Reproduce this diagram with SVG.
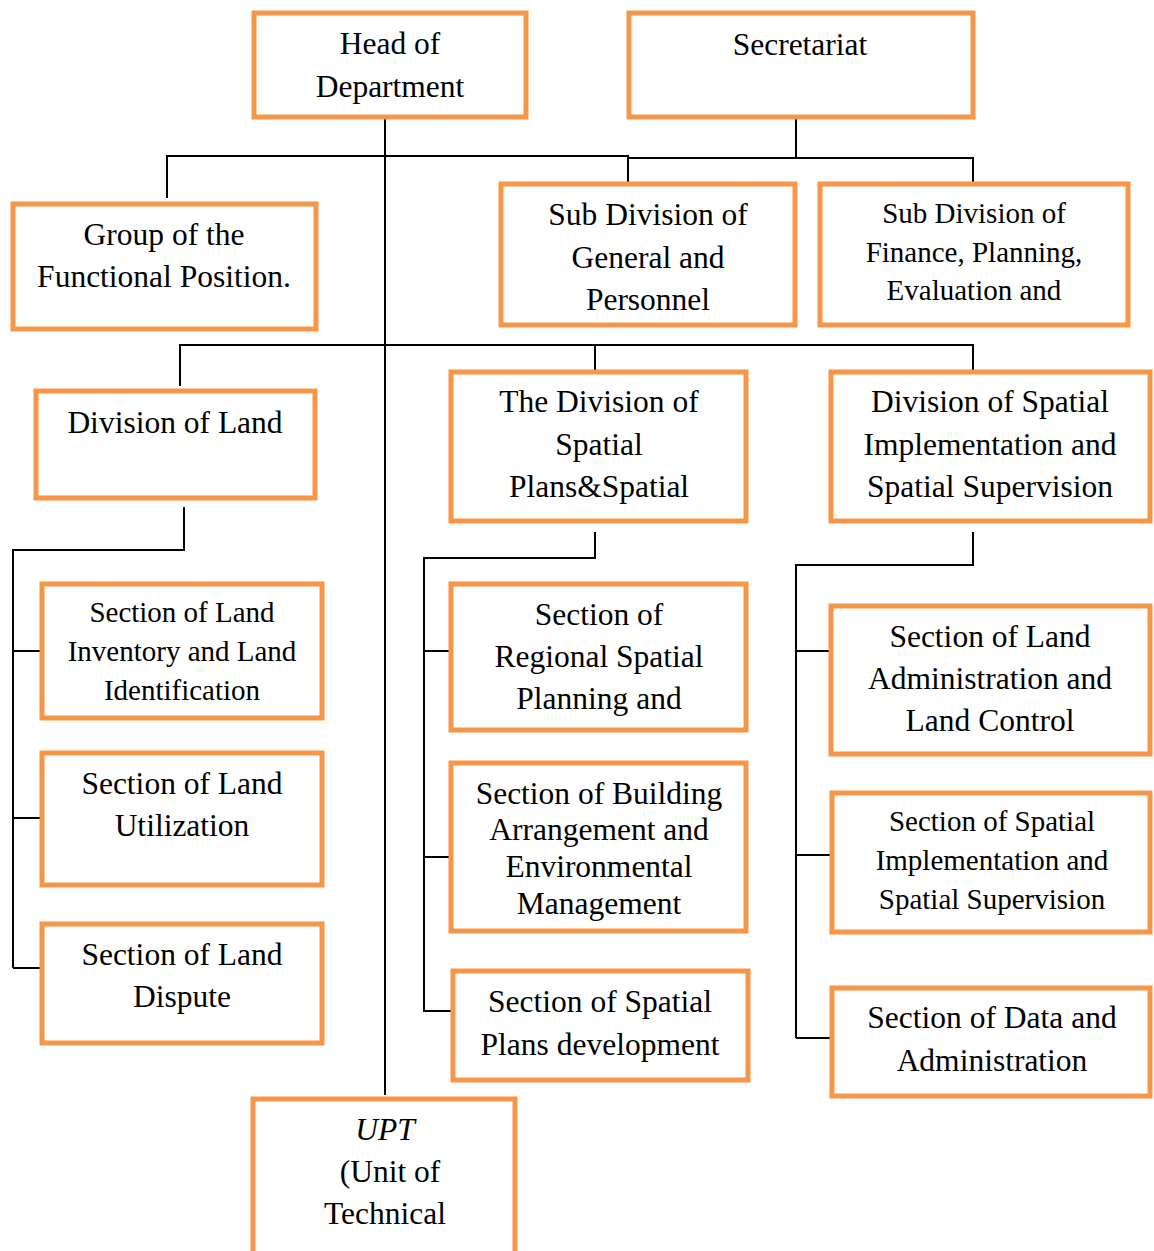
<svg xmlns="http://www.w3.org/2000/svg" width="1154" height="1251" viewBox="0 0 1154 1251">
<style>
.box{fill:#fff;stroke:#F79646;stroke-width:5}
.t{font-family:"Liberation Serif","Times New Roman",serif;font-size:31.5px;fill:#000;text-anchor:middle}
.s{font-size:29px}
.i{font-style:italic}
.c{stroke:#000;stroke-width:2;fill:none}
</style>
<rect width="1154" height="1251" fill="#fff"/>
<g id="connectors">
<path class="c" d="M385 118V1095"/>
<path class="c" d="M167 198V156H628V183"/>
<path class="c" d="M796 118V158H628M796 158H973V183"/>
<path class="c" d="M180 386V345H973V370M595 345V370"/>
<path class="c" d="M184 507V550H13V968M13 651H41M13 818H41M13 968H41"/>
<path class="c" d="M595 532V558H424V1012M424 651H450M424 857H450M424 1011H452"/>
<path class="c" d="M973 532V565H796V1038M796 651H830M796 855H831M796 1038H831"/>
</g>
<g id="head"><rect class="box" x="254" y="13" width="272" height="104"/><text class="t" x="390" y="54">Head of</text><text class="t" x="390" y="97">Department</text></g>
<g id="secretariat"><rect class="box" x="629" y="13" width="344" height="104"/><text class="t" x="800" y="55">Secretariat</text></g>
<g id="functional"><rect class="box" x="13" y="204" width="303" height="125"/><text class="t" x="164" y="245">Group of the</text><text class="t" x="164" y="287">Functional Position.</text></g>
<g id="general"><rect class="box" x="501" y="184" width="294" height="141"/><text class="t" x="648" y="225">Sub Division of</text><text class="t" x="648" y="268">General and</text><text class="t" x="648" y="310">Personnel</text></g>
<g id="finance"><rect class="box" x="820" y="184" width="308" height="141"/><text class="t s" x="974" y="223">Sub Division of</text><text class="t s" x="974" y="262">Finance, Planning,</text><text class="t s" x="974" y="300">Evaluation and</text></g>
<g id="divland"><rect class="box" x="36" y="391" width="279" height="107"/><text class="t" x="175" y="433">Division of Land</text></g>
<g id="divplans"><rect class="box" x="451" y="372" width="295" height="149"/><text class="t" x="599" y="412">The Division of</text><text class="t" x="599" y="455">Spatial</text><text class="t" x="599" y="497">Plans&amp;Spatial</text></g>
<g id="divimpl"><rect class="box" x="831" y="372" width="319" height="149"/><text class="t" x="990" y="412">Division of Spatial</text><text class="t" x="990" y="455">Implementation and</text><text class="t" x="990" y="497">Spatial Supervision</text></g>
<g id="secinventory"><rect class="box" x="42" y="584" width="280" height="134"/><text class="t s" x="182" y="622">Section of Land</text><text class="t s" x="182" y="661">Inventory and Land</text><text class="t s" x="182" y="700">Identification</text></g>
<g id="secutil"><rect class="box" x="42" y="753" width="280" height="132"/><text class="t" x="182" y="794">Section of Land</text><text class="t" x="182" y="836">Utilization</text></g>
<g id="secdispute"><rect class="box" x="42" y="924" width="280" height="119"/><text class="t" x="182" y="965">Section of Land</text><text class="t" x="182" y="1007">Dispute</text></g>
<g id="secregional"><rect class="box" x="451" y="584" width="295" height="146"/><text class="t" x="599" y="625">Section of</text><text class="t" x="599" y="667">Regional Spatial</text><text class="t" x="599" y="709">Planning and</text></g>
<g id="secbuilding"><rect class="box" x="451" y="763" width="295" height="168"/><text class="t" x="599" y="804">Section of Building</text><text class="t" x="599" y="840">Arrangement and</text><text class="t" x="599" y="877">Environmental</text><text class="t" x="599" y="914">Management</text></g>
<g id="secplansdev"><rect class="box" x="453" y="971" width="295" height="109"/><text class="t" x="600" y="1012">Section of Spatial</text><text class="t" x="600" y="1055">Plans development</text></g>
<g id="secadmin"><rect class="box" x="831" y="606" width="319" height="148"/><text class="t" x="990" y="647">Section of Land</text><text class="t" x="990" y="689">Administration and</text><text class="t" x="990" y="731">Land Control</text></g>
<g id="secimpl"><rect class="box" x="832" y="793" width="318" height="139"/><text class="t s" x="992" y="831">Section of Spatial</text><text class="t s" x="992" y="870">Implementation and</text><text class="t s" x="992" y="909">Spatial Supervision</text></g>
<g id="secdata"><rect class="box" x="832" y="988" width="318" height="108"/><text class="t" x="992" y="1028">Section of Data and</text><text class="t" x="992" y="1071">Administration</text></g>
<g id="upt"><rect class="box" x="253" y="1099" width="262" height="160"/><text class="t i" x="385" y="1140">UPT</text><text class="t" x="390" y="1182">(Unit of</text><text class="t" x="385" y="1224">Technical</text></g>
</svg>
